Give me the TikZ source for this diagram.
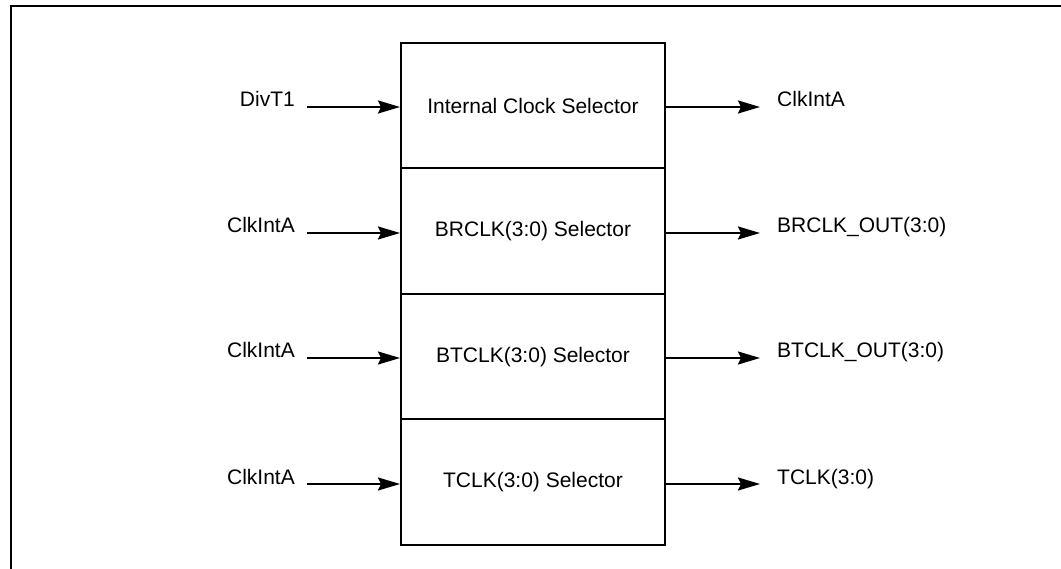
\documentclass[tikz,border=0pt]{standalone}
\usepackage{fontspec}
\setmainfont{Liberation Sans}
\usetikzlibrary{arrows.meta}
\begin{document}
\begin{tikzpicture}[x=1pt,y=-1pt,
  rowbox/.style={draw, line width=2pt, minimum width=264pt, minimum height=125.5pt, inner sep=0pt, font=\fontsize{21}{25}\selectfont},
  lab/.style={inner sep=0pt, font=\fontsize{21}{25}\selectfont},
  arr/.style={line width=2pt, -{Stealth[length=22pt,width=13pt,inset=3pt]}}]
\useasboundingbox (0,0) rectangle (1061,569);
\draw[line width=2.5pt] (1061,6) -- (11,6) -- (11,569);
% selector rows
\node[rowbox] (r1) at (533,105.6) {Internal Clock Selector};
\node[rowbox] (r2) at (533,231.1) {BRCLK(3:0) Selector};
\node[rowbox] (r3) at (533,356.6) {BTCLK(3:0) Selector};
\node[rowbox] (r4) at (533,482.1) {TCLK(3:0) Selector};
% input side
\foreach \i/\y/\t in {1/107/DivT1, 2/233/ClkIntA, 3/358/ClkIntA, 4/484/ClkIntA}{
  \coordinate (a\i) at (307,\y);
  \node[lab, anchor=base east] (l\i) at (295,\y) {\t};
  \draw[arr] (a\i) -- (a\i -| r\i.west);
}
% output side
\foreach \i/\y/\t in {1/107/ClkIntA, 2/233/BRCLK\_OUT(3:0), 3/358/BTCLK\_OUT(3:0), 4/484/TCLK(3:0)}{
  \coordinate (b\i) at (760,\y);
  \node[lab, anchor=base west] (o\i) at (777,\y) {\t};
  \draw[arr] (b\i -| r\i.east) -- (b\i);
}
\end{tikzpicture}
\end{document}
